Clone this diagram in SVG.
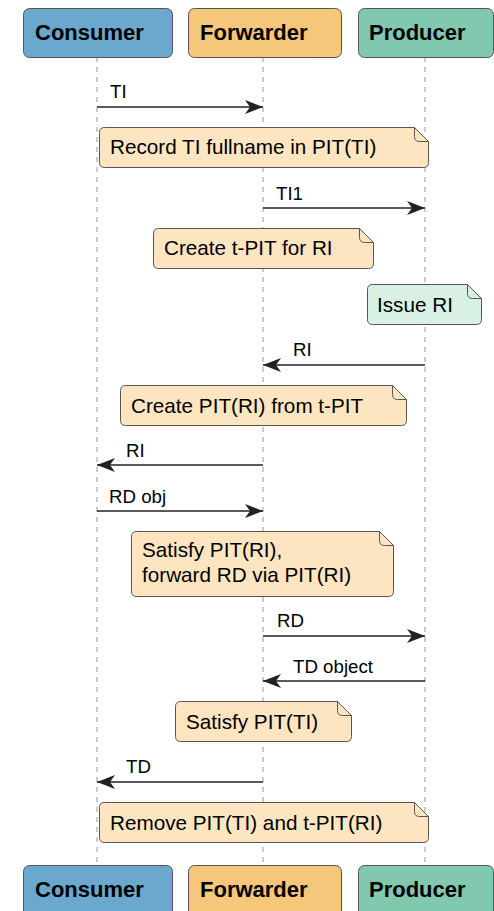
<svg xmlns="http://www.w3.org/2000/svg" width="494" height="911" viewBox="0 0 494 911">
<style>
.part{stroke:#555;stroke-width:1}
.ptxt{font-family:"Liberation Sans",Arial,sans-serif;font-weight:bold;font-size:22px;fill:#000}
.life{stroke:#999;stroke-width:1;stroke-dasharray:5,5;fill:none}
.msg{stroke:#222;stroke-width:1.6;fill:none;marker-end:url(#ah)}
.mtxt{font-family:"Liberation Sans",Arial,sans-serif;font-size:18.7px;fill:#000}
.note{fill:#fce5c0;stroke:#555;stroke-width:1}
.gnote{fill:#d9f1e4;stroke:#555;stroke-width:1}
.fold{fill:none;stroke:#555;stroke-width:1}
.ntxt{font-family:"Liberation Sans",Arial,sans-serif;font-size:20.7px;fill:#000}
</style>
<defs>
<marker id="ah" markerUnits="userSpaceOnUse" markerWidth="20" markerHeight="16" viewBox="0 0 20 16" refX="19" refY="8" orient="auto">
<path d="M1,1 L19,8 L1,15 L6,8 Z" fill="#222"/>
</marker>
</defs>
<rect width="494" height="911" fill="#fff"/>
<g id="lifelines">
<line class="life" x1="97" y1="57" x2="97" y2="865"/>
<line class="life" x1="263" y1="57" x2="263" y2="865"/>
<line class="life" x1="425" y1="57" x2="425" y2="865"/>
</g>
<g id="consumer-top"><rect class="part" x="23.5" y="8.5" width="149" height="49" rx="6" fill="#6aa8ce"/><text class="ptxt" x="35" y="40">Consumer</text></g>
<g id="forwarder-top"><rect class="part" x="188.5" y="8.5" width="153" height="49" rx="6" fill="#f5c77b"/><text class="ptxt" x="200" y="40">Forwarder</text></g>
<g id="producer-top"><rect class="part" x="358.5" y="8.5" width="135" height="49" rx="6" fill="#80c9af"/><text class="ptxt" x="369" y="40">Producer</text></g>
<g id="consumer-bottom"><rect class="part" x="23.5" y="865.5" width="149" height="52" rx="6" fill="#6aa8ce"/><text class="ptxt" x="35" y="897">Consumer</text></g>
<g id="forwarder-bottom"><rect class="part" x="188.5" y="865.5" width="153" height="52" rx="6" fill="#f5c77b"/><text class="ptxt" x="200" y="897">Forwarder</text></g>
<g id="producer-bottom"><rect class="part" x="358.5" y="865.5" width="135" height="52" rx="6" fill="#80c9af"/><text class="ptxt" x="369" y="897">Producer</text></g>
<g id="connectors">
<line class="msg" x1="97" y1="107" x2="263" y2="107"/>
<text class="mtxt" x="110" y="98">TI</text>
<line class="msg" x1="263" y1="208" x2="425" y2="208"/>
<text class="mtxt" x="276" y="200">TI1</text>
<line class="msg" x1="425" y1="365" x2="263" y2="365"/>
<text class="mtxt" x="293" y="356">RI</text>
<line class="msg" x1="263" y1="465" x2="97" y2="465"/>
<text class="mtxt" x="126" y="457">RI</text>
<line class="msg" x1="97" y1="511" x2="263" y2="511"/>
<text class="mtxt" x="109" y="503">RD obj</text>
<line class="msg" x1="263" y1="636" x2="425" y2="636"/>
<text class="mtxt" x="277" y="627">RD</text>
<line class="msg" x1="425" y1="681" x2="263" y2="681"/>
<text class="mtxt" x="293" y="673">TD object</text>
<line class="msg" x1="263" y1="782" x2="97" y2="782"/>
<text class="mtxt" x="126" y="773">TD</text>
</g>
<g id="note1">
<path class="note" d="M104.5,127.5 L414.5,127.5 L428.5,141.5 L428.5,162.5 Q428.5,167.5 423.5,167.5 L104.5,167.5 Q99.5,167.5 99.5,162.5 L99.5,132.5 Q99.5,127.5 104.5,127.5 Z"/>
<path class="fold" d="M414.5,127.5 L414.5,136.5 Q414.5,141.5 419.5,141.5 L428.5,141.5"/>
<text class="ntxt" x="110" y="154">Record TI fullname in PIT(TI)</text>
</g>
<g id="note2">
<path class="note" d="M158.5,228.5 L359.5,228.5 L373.5,242.5 L373.5,263.5 Q373.5,268.5 368.5,268.5 L158.5,268.5 Q153.5,268.5 153.5,263.5 L153.5,233.5 Q153.5,228.5 158.5,228.5 Z"/>
<path class="fold" d="M359.5,228.5 L359.5,237.5 Q359.5,242.5 364.5,242.5 L373.5,242.5"/>
<text class="ntxt" x="164" y="255">Create t-PIT for RI</text>
</g>
<g id="note3">
<path class="gnote" d="M372.5,284.5 L467.5,284.5 L481.5,298.5 L481.5,319.5 Q481.5,324.5 476.5,324.5 L372.5,324.5 Q367.5,324.5 367.5,319.5 L367.5,289.5 Q367.5,284.5 372.5,284.5 Z"/>
<path class="fold" d="M467.5,284.5 L467.5,293.5 Q467.5,298.5 472.5,298.5 L481.5,298.5"/>
<text class="ntxt" x="377" y="312">Issue RI</text>
</g>
<g id="note4">
<path class="note" d="M125.5,385.5 L392.5,385.5 L406.5,399.5 L406.5,420.5 Q406.5,425.5 401.5,425.5 L125.5,425.5 Q120.5,425.5 120.5,420.5 L120.5,390.5 Q120.5,385.5 125.5,385.5 Z"/>
<path class="fold" d="M392.5,385.5 L392.5,394.5 Q392.5,399.5 397.5,399.5 L406.5,399.5"/>
<text class="ntxt" x="131" y="413">Create PIT(RI) from t-PIT</text>
</g>
<g id="note5">
<path class="note" d="M136.5,531.5 L379.5,531.5 L393.5,545.5 L393.5,591.5 Q393.5,596.5 388.5,596.5 L136.5,596.5 Q131.5,596.5 131.5,591.5 L131.5,536.5 Q131.5,531.5 136.5,531.5 Z"/>
<path class="fold" d="M379.5,531.5 L379.5,540.5 Q379.5,545.5 384.5,545.5 L393.5,545.5"/>
<text class="ntxt" x="142" y="557">Satisfy PIT(RI),</text>
<text class="ntxt" x="142" y="582">forward RD via PIT(RI)</text>
</g>
<g id="note6">
<path class="note" d="M180.5,701.5 L337.5,701.5 L351.5,715.5 L351.5,736.5 Q351.5,741.5 346.5,741.5 L180.5,741.5 Q175.5,741.5 175.5,736.5 L175.5,706.5 Q175.5,701.5 180.5,701.5 Z"/>
<path class="fold" d="M337.5,701.5 L337.5,710.5 Q337.5,715.5 342.5,715.5 L351.5,715.5"/>
<text class="ntxt" x="186" y="729">Satisfy PIT(TI)</text>
</g>
<g id="note7">
<path class="note" d="M104.5,802.5 L414.5,802.5 L428.5,816.5 L428.5,837.5 Q428.5,842.5 423.5,842.5 L104.5,842.5 Q99.5,842.5 99.5,837.5 L99.5,807.5 Q99.5,802.5 104.5,802.5 Z"/>
<path class="fold" d="M414.5,802.5 L414.5,811.5 Q414.5,816.5 419.5,816.5 L428.5,816.5"/>
<text class="ntxt" x="110" y="830">Remove PIT(TI) and t-PIT(RI)</text>
</g>
</svg>
